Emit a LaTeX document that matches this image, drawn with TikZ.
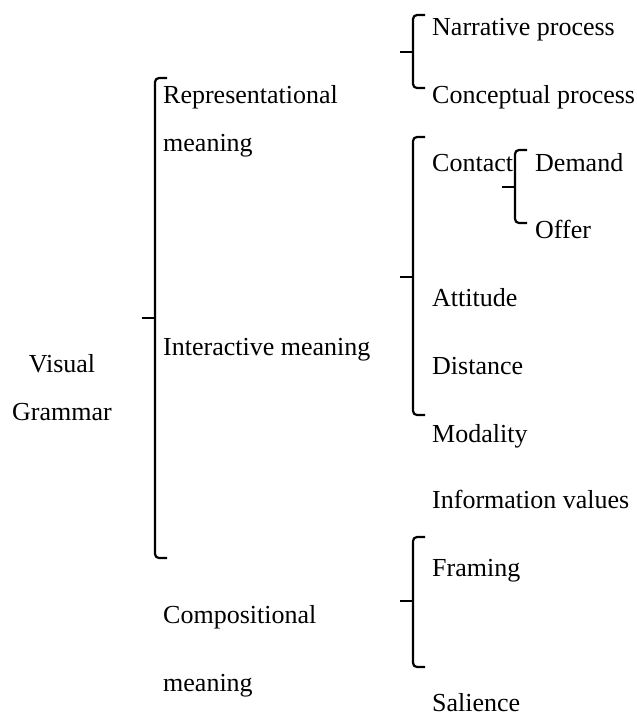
\documentclass[tikz,border=0pt]{standalone}
\usepackage{fontspec}
\setmainfont{Liberation Serif}
\begin{document}
\begin{tikzpicture}[x=1pt,y=-1pt,
  lbl/.style={anchor=base west,inner sep=0pt,font=\fontsize{26}{31}\selectfont},
  brc/.style={line width=2.2pt,rounded corners=4pt},
  tick/.style={line width=2.2pt}]
\useasboundingbox[fill=white] (0,0) rectangle (637,716);
% braces: x, top, mid, bottom
\newcommand{\mybrace}[4]{%
  \draw[brc] (#1+12,#2) -- (#1,#2) -- (#1,#4) -- (#1+12,#4);
  \draw[tick] (#1-13,#3) -- (#1,#3);}
\mybrace{155}{78}{318}{558}
\mybrace{413}{15}{52}{88}
\mybrace{413}{137}{277}{415}
\mybrace{515}{150}{187}{223}
\mybrace{413}{537}{601}{667}
\node[lbl,anchor=base] (vis) at (62,372) {Visual};
\node[lbl,anchor=base] (gram) at (62,420) {Grammar};
\node[lbl] (rep1) at (163,103) {Representational};
\node[lbl] (rep2) at (163,151) {meaning};
\node[lbl] (int) at (163,355) {Interactive meaning};
\node[lbl] (comp1) at (163,623) {Compositional};
\node[lbl] (comp2) at (163,691) {meaning};
\node[lbl] (nar) at (432,35) {Narrative process};
\node[lbl] (con) at (432,103) {Conceptual process};
\node[lbl] (cont) at (432,171) {Contact};
\node[lbl] (dem) at (535,171) {Demand};
\node[lbl] (off) at (535,238) {Offer};
\node[lbl] (att) at (432,306) {Attitude};
\node[lbl] (dist) at (432,374) {Distance};
\node[lbl] (mod) at (432,442) {Modality};
\node[lbl] (info) at (432,508) {Information values};
\node[lbl] (fram) at (432,576) {Framing};
\node[lbl] (sal) at (432,711) {Salience};
\end{tikzpicture}
\end{document}
